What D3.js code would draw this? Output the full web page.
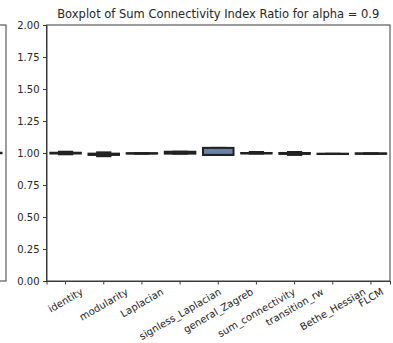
<!DOCTYPE html>
<html>
<head>
<meta charset="utf-8">
<script src="https://cdn.jsdelivr.net/npm/d3@7"></script>
<style>
  body { margin: 0; background: #fff; }
  text { font-family: "DejaVu Sans", sans-serif; fill: #262626; }
</style>
</head>
<body>
<div id="chart"></div>
<script>
// categories and box statistics
var methods = ["identity", "modularity", "Laplacian", "signless_Laplacian", "general_Zagreb",
               "sum_connectivity", "transition_rw", "Bethe_Hessian", "FLCM"];
var whiskerLow  = [0.990, 0.975, 0.995, 0.995, 0.985, 0.996, 0.985, 0.992, 0.994];
var q1          = [0.996, 0.985, 0.996, 0.995, 0.985, 0.997, 0.993, 0.992, 0.994];
var median      = [1.000, 0.990, 0.997, 1.000, 0.985, 0.998, 0.996, 0.993, 0.995];
var q3          = [1.002, 0.995, 0.998, 1.010, 1.040, 1.000, 1.000, 0.994, 0.997];
var whiskerHigh = [1.010, 1.005, 0.999, 1.010, 1.040, 1.008, 1.008, 0.994, 0.997];
var yTicks = [0, 0.25, 0.5, 0.75, 1.0, 1.25, 1.5, 1.75, 2.0];

var W = 393, H = 343;
var margin = {top: 25, right: 3, bottom: 62, left: 46.5};
var width = W - margin.left - margin.right,
    height = H - margin.top - margin.bottom;

var root = d3.select("#chart").append("svg")
    .attr("width", W)
    .attr("height", H);

// edge of the neighbouring subplot on the left
root.append("rect")
    .attr("x", -10).attr("y", margin.top)
    .attr("width", 16).attr("height", height)
    .attr("fill", "none").attr("stroke", "#3a3a3a").attr("stroke-width", 1);
root.append("line")
    .attr("x1", 0).attr("x2", 2.5)
    .attr("y1", margin.top + height / 2).attr("y2", margin.top + height / 2)
    .attr("stroke", "#222").attr("stroke-width", 2.5);

var svg = root.append("g")
    .attr("transform", "translate(" + margin.left + "," + margin.top + ")");

var x = d3.scaleBand()
    .domain(methods)
    .range([0, width])
    .padding(0);

var y = d3.scaleLinear()
    .domain([0, 2])
    .range([height, 0]);

// Y axis
var yAxis = svg.append("g")
    .call(d3.axisLeft(y).tickValues(yTicks).tickFormat(d3.format(".2f")).tickSize(3.5).tickPadding(3.5));
yAxis.selectAll("text").style("font-size", "10px");

// X axis, labels rotated 30 degrees and centred on the tick
var xAxis = svg.append("g")
    .attr("transform", "translate(0," + height + ")")
    .call(d3.axisBottom(x).tickSize(3.5).tickPadding(3.5));
xAxis.selectAll("text").each(function(d) {
  var t = d3.select(this)
    .style("font-size", "10px")
    .attr("dy", null)
    .attr("text-anchor", "middle")
    .attr("dominant-baseline", "central");
  var len = this.getComputedTextLength();
  var a = 30 * Math.PI / 180;
  var bh = len * Math.sin(a) + 11 * Math.cos(a);
  var cy = 5 + bh / 2;
  t.attr("x", 0).attr("y", 0)
   .attr("transform", "translate(0," + cy + ") rotate(-30)");
});

[xAxis, yAxis].forEach(function(ax) {
  ax.select(".domain").attr("stroke", "#3a3a3a");
  ax.selectAll(".tick line").attr("stroke", "#3a3a3a");
});

// frame (top and right spines)
svg.append("rect")
    .attr("width", width).attr("height", height)
    .attr("fill", "none").attr("stroke", "#3a3a3a").attr("stroke-width", 1);

// boxes
var boxW = x.bandwidth() * 0.8;
var lineColor = "#222";
var boxes = svg.selectAll("g.box")
  .data(methods)
  .enter()
  .append("g")
    .attr("class", "box")
    .attr("transform", function(d) { return "translate(" + (x(d) + x.bandwidth() / 2) + ",0)"; });

boxes.append("line")
    .attr("x1", 0).attr("x2", 0)
    .attr("y1", function(d, i) { return y(whiskerLow[i]); })
    .attr("y2", function(d, i) { return y(whiskerHigh[i]); })
    .attr("stroke", lineColor).attr("stroke-width", 2);

boxes.selectAll("line.cap")
  .data(function(d, i) { return [whiskerLow[i], whiskerHigh[i]]; })
  .enter()
  .append("line")
    .attr("class", "cap")
    .attr("x1", -boxW / 4).attr("x2", boxW / 4)
    .attr("y1", function(v) { return y(v); })
    .attr("y2", function(v) { return y(v); })
    .attr("stroke", lineColor).attr("stroke-width", 2);

boxes.append("rect")
    .attr("x", -boxW / 2)
    .attr("width", boxW)
    .attr("y", function(d, i) { return y(q3[i]); })
    .attr("height", function(d, i) { return y(q1[i]) - y(q3[i]); })
    .attr("fill", "#6b82a8")
    .attr("stroke", lineColor).attr("stroke-width", 2);

boxes.append("line")
    .attr("x1", -boxW / 2).attr("x2", boxW / 2)
    .attr("y1", function(d, i) { return y(median[i]); })
    .attr("y2", function(d, i) { return y(median[i]); })
    .attr("stroke", lineColor).attr("stroke-width", 2);

// title
svg.append("text")
    .attr("x", width / 2)
    .attr("y", -7)
    .attr("text-anchor", "middle")
    .style("font-size", "11.5px")
    .text("Boxplot of Sum Connectivity Index Ratio for alpha = 0.9");
</script>
</body>
</html>
